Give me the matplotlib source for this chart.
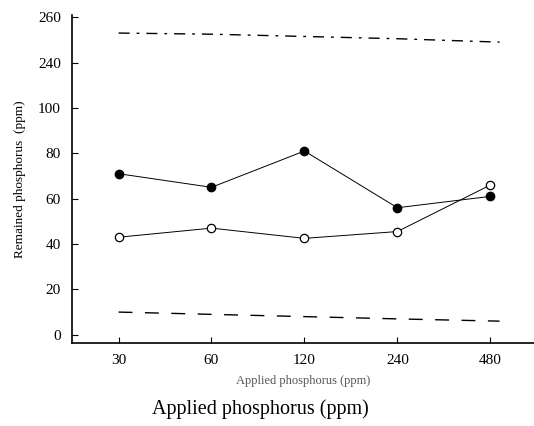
import numpy as np
import matplotlib.pyplot as plt

plt.rcParams['font.family'] = ['Liberation Serif', 'DejaVu Serif']

# data
applied = ['30', '60', '120', '240', '480']
filled = [71, 65, 81, 56, 61]
hollow = [43, 47, 42.5, 45.5, 66]
top_dash = [253, 252.5, 251.5, 250.5, 249]
bottom_dash = [10, 9, 8, 7, 6]

ytick_vals = [0, 20, 40, 60, 80, 100, 240, 260]

# broken y axis: 0..100 evenly, then 240..260 on top
def ypos(v):
    v = np.asarray(v, dtype=float)
    return np.where(v >= 200, 6 + (v - 240) / 20, v / 20)

x = np.arange(len(applied))

fig = plt.figure(figsize=(5.34, 4.26), dpi=100)
ax = fig.add_axes([0.135, 0.195, 0.865, 0.77])

ax.plot(x, ypos(filled), color='black', lw=0.7, marker='o', ms=6,
        mfc='black', mec='black')
ax.plot(x, ypos(hollow), color='black', lw=0.7, marker='o', ms=6,
        mfc='white', mec='black', mew=0.9)
ax.plot(np.r_[x[:-1], 4.1], ypos(top_dash), color='black', lw=1.0,
        dashes=(8, 5, 2, 5))
ax.plot(np.r_[x[:-1], 4.1], ypos(bottom_dash), color='black', lw=1.0,
        dashes=(10, 9))

ax.set_xlim(-0.5, 4.47)
ax.set_ylim(-0.18, 7.05)
ax.set_xticks(x)
ax.set_xticklabels(applied)
ax.set_yticks(np.arange(len(ytick_vals)))
ax.set_yticklabels([str(v) for v in ytick_vals])
ax.tick_params(direction='in', length=4, width=0.8, labelsize=11, pad=8)

ax.spines['top'].set_visible(False)
ax.spines['right'].set_visible(False)
ax.spines['left'].set_linewidth(1.2)
ax.spines['bottom'].set_linewidth(1.2)

ax.set_xlabel('Applied phosphorus (ppm)', fontsize=9, color='#555555', labelpad=6)
ax.set_ylabel('Remained phosphorus  (ppm)', fontsize=9.5, labelpad=9)

fig.text(0.487, 0.028, 'Applied phosphorus (ppm)', fontsize=14.5, ha='center')

fig.savefig('out.png', dpi=100)
